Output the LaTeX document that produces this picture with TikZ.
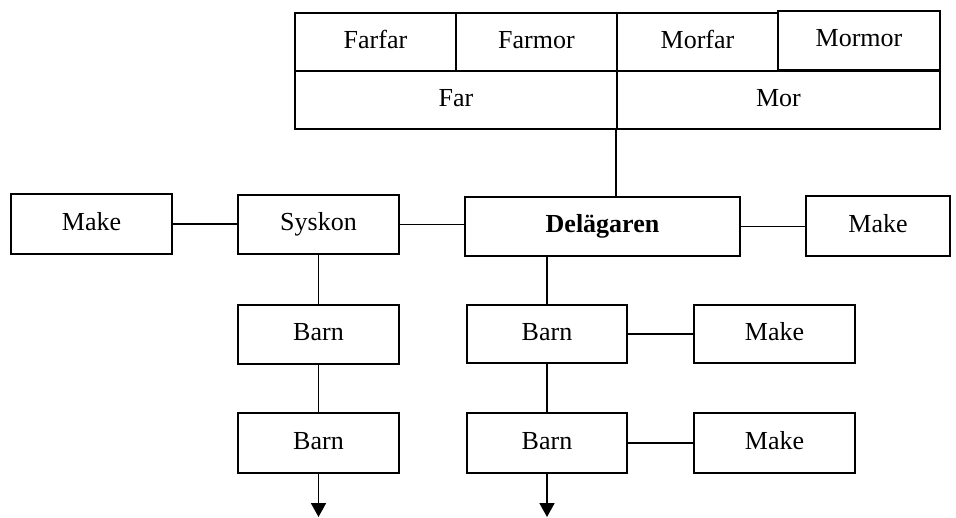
\documentclass[tikz,border=0pt]{standalone}
\usepackage{fontspec}
\setmainfont{Liberation Serif}
\usetikzlibrary{arrows.meta}
\begin{document}
\begin{tikzpicture}[x=1pt,y=-1pt,
  box/.style={draw,line width=2.2pt,rectangle,inner sep=0pt,
    text height=17pt,text depth=4.5pt,
    font=\fontsize{26}{30}\selectfont},
  link/.style={line width=1.8pt},
  down/.style={line width=1.8pt,-{Triangle[width=15pt,length=14pt]}}]
\useasboundingbox (0,0) rectangle (956,517);
% place a box given its corners: \bx{name}{x1}{y1}{x2}{y2}{text}
\newcommand{\bx}[6]{%
  \node[box,minimum width={#4-#2},minimum height={#5-#3}] (#1)
    at ({(#2+#4)/2},{(#3+#5)/2}) {#6};}
% grandparents and parents
\bx{farfar}{295}{13}{456}{71}{Farfar}
\bx{farmor}{456}{13}{617}{71}{Farmor}
\bx{morfar}{617}{13}{778}{71}{Morfar}
\bx{mormor}{778}{11}{940}{70}{Mormor}
\bx{far}{295}{71}{617}{129}{Far}
\bx{mor}{617}{71}{940}{129}{Mor}
% middle row
\bx{makeL}{11}{194}{172}{254}{Make}
\bx{syskon}{238}{195}{399}{254}{Syskon}
\bx{del}{465}{197}{740}{256}{\textbf{Delägaren}}
\bx{makeR}{806}{196}{950}{256}{Make}
% children
\bx{barnLa}{238}{305}{399}{364}{Barn}
\bx{barnLb}{238}{413}{399}{473}{Barn}
\bx{barnRa}{467}{305}{627}{363}{Barn}
\bx{makeRa}{694}{305}{855}{363}{Make}
\bx{barnRb}{467}{413}{627}{473}{Barn}
\bx{makeRb}{694}{413}{855}{473}{Make}
% connectors
\draw[link] (mor.south west) -- (mor.south west |- del.north);
\draw[link] (makeL.east) -- (makeL.east -| syskon.west);
\draw[link] (syskon.east) -- (syskon.east -| del.west);
\draw[link] (del.east) -- (del.east -| makeR.west);
\draw[link] (barnRa.north |- del.south) -- (barnRa.north);
\draw[link] (syskon.south -| barnLa.north) -- (barnLa.north);
\draw[link] (barnLa.south) -- (barnLb.north);
\draw[link] (barnRa.south) -- (barnRb.north);
\draw[link] (barnRa.east) -- (makeRa.west);
\draw[link] (barnRb.east) -- (makeRb.west);
% lines continuing to later generations
\coordinate (endL) at (barnLb.south |- 0,517);
\coordinate (endR) at (barnRb.south |- 0,517);
\draw[down] (barnLb.south) -- (endL);
\draw[down] (barnRb.south) -- (endR);
\end{tikzpicture}
\end{document}
